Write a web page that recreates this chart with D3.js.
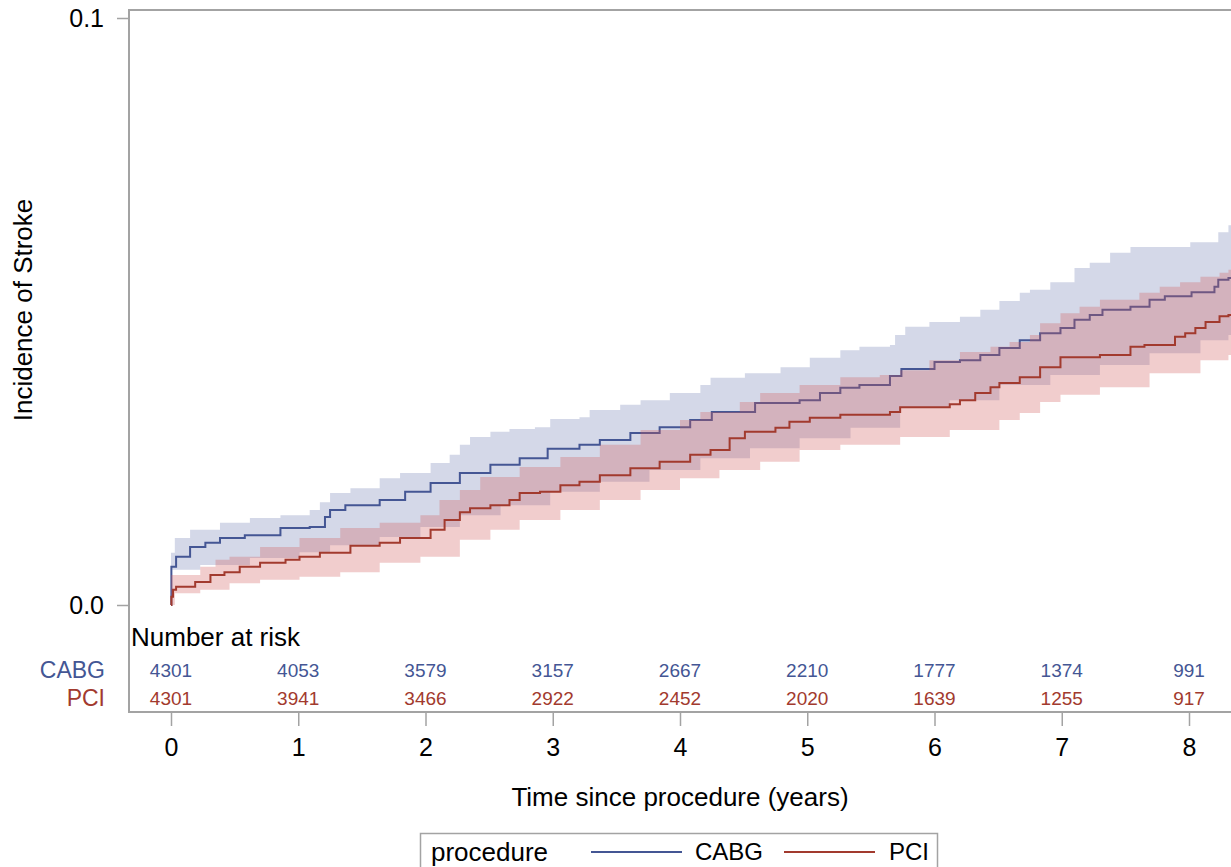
<!DOCTYPE html>
<html>
<head>
<meta charset="utf-8">
<script src="https://cdn.jsdelivr.net/npm/d3@7"></script>
<style>
  html, body { margin: 0; padding: 0; background: #fff; }
  svg { display: block; font-family: "Liberation Sans", Arial, sans-serif; }
</style>
</head>
<body>
<svg id="chart" width="1231" height="867"></svg>
<script>
// ---------------- DATA ----------------
const groups = ["CABG", "PCI"];
const xTicks = [0, 1, 2, 3, 4, 5, 6, 7, 8];
const yTicks = [0.0, 0.1];

// Kaplan-Meier style cumulative incidence: [time (years), incidence]
const cabgLine = [
  [0,0],[0.003,0.0065],[0.04,0.0082],[0.15,0.0099],[0.27,0.0106],[0.385,0.0114],[0.58,0.0119],
  [0.86,0.0131],[1.09,0.0133],[1.21,0.0150],[1.25,0.0162],[1.37,0.0170],[1.64,0.0179],[1.84,0.0193],
  [2.04,0.0208],[2.27,0.0225],[2.51,0.0239],[2.74,0.0250],[2.96,0.0266],[3.21,0.0273],[3.37,0.0281],
  [3.61,0.0293],[3.84,0.0303],[4.08,0.0315],[4.25,0.0329],[4.59,0.0344],[4.94,0.0349],[5.10,0.0361],
  [5.26,0.0370],[5.41,0.0375],[5.65,0.0390],[5.74,0.0402],[6.00,0.0414],[6.20,0.0417],[6.36,0.0426],
  [6.51,0.0438],[6.67,0.0451],[6.83,0.0463],[6.99,0.0472],[7.10,0.0486],[7.22,0.0494],[7.32,0.0503],
  [7.54,0.0508],[7.69,0.0520],[7.81,0.0526],[8.02,0.0533],[8.20,0.0542],[8.23,0.0554],[8.31,0.0557]
];
const cabgUpper = [
  [0,0.0089],[0.03,0.0114],[0.15,0.0128],[0.385,0.0140],[0.62,0.0148],[0.86,0.0153],[1.09,0.0162],
  [1.17,0.0175],[1.25,0.0191],[1.41,0.0199],[1.64,0.0216],[1.80,0.0225],[2.04,0.0242],[2.19,0.0256],
  [2.27,0.0273],[2.35,0.0286],[2.51,0.0295],[2.66,0.0300],[2.86,0.0303],[2.98,0.0317],[3.21,0.0320],
  [3.29,0.0332],[3.53,0.0341],[3.69,0.0349],[3.92,0.0361],[4.16,0.0375],[4.24,0.0387],[4.51,0.0395],
  [4.79,0.0405],[5.02,0.0421],[5.26,0.0434],[5.41,0.0440],[5.65,0.0443],[5.69,0.0460],[5.77,0.0474],
  [5.96,0.0482],[6.20,0.0491],[6.36,0.0503],[6.51,0.0518],[6.67,0.0532],[6.75,0.0537],[6.91,0.0550],
  [7.10,0.0574],[7.22,0.0583],[7.38,0.0600],[7.54,0.0610],[8.01,0.0618],[8.23,0.0635],[8.31,0.0647]
];
const cabgLower = [
  [0,0.0060],[0.23,0.0068],[0.62,0.0080],[1.01,0.0090],[1.25,0.0102],[1.64,0.0116],[1.96,0.0133],
  [2.27,0.0153],[2.59,0.0170],[2.98,0.0193],[3.37,0.0210],[3.76,0.0230],[4.16,0.0250],[4.55,0.0267],
  [4.94,0.0284],[5.34,0.0302],[5.73,0.0336],[6.12,0.0349],[6.51,0.0375],[6.91,0.0392],[7.30,0.0409],
  [7.69,0.0429],[8.09,0.0451],[8.31,0.0460]
];

const pciLine = [
  [0,0],[0.003,0.0014],[0.016,0.0026],[0.04,0.0031],[0.19,0.0039],[0.31,0.0051],[0.42,0.0056],
  [0.54,0.0065],[0.70,0.0072],[0.90,0.0077],[1.01,0.0082],[1.17,0.0089],[1.41,0.0101],[1.64,0.0106],
  [1.80,0.0114],[2.04,0.0128],[2.15,0.0145],[2.27,0.0158],[2.35,0.0165],[2.51,0.0170],[2.66,0.0179],
  [2.74,0.0191],[2.90,0.0193],[3.06,0.0204],[3.21,0.0210],[3.37,0.0221],[3.61,0.0233],[3.84,0.0244],
  [4.08,0.0256],[4.24,0.0264],[4.39,0.0284],[4.51,0.0295],[4.75,0.0302],[4.86,0.0312],[5.02,0.0319],
  [5.26,0.0324],[5.65,0.0329],[5.73,0.0337],[6.12,0.0342],[6.20,0.0349],[6.32,0.0361],[6.44,0.0371],
  [6.51,0.0378],[6.67,0.0388],[6.83,0.0405],[6.99,0.0422],[7.30,0.0426],[7.54,0.0440],[7.65,0.0443],
  [7.89,0.0457],[7.97,0.0463],[8.05,0.0472],[8.13,0.0482],[8.24,0.0492],[8.31,0.0494]
];
const pciUpper = [
  [0,0.0051],[0.23,0.0065],[0.35,0.0077],[0.46,0.0082],[0.70,0.0099],[1.01,0.0114],[1.33,0.0131],
  [1.64,0.0140],[1.96,0.0153],[2.11,0.0179],[2.27,0.0196],[2.43,0.0218],[2.74,0.0235],[3.06,0.0252],
  [3.37,0.0273],[3.69,0.0298],[4.00,0.0315],[4.16,0.0329],[4.47,0.0346],[4.63,0.0361],[4.94,0.0375],
  [5.26,0.0388],[5.57,0.0392],[5.73,0.0400],[5.96,0.0417],[6.20,0.0431],[6.44,0.0440],[6.59,0.0448],
  [6.75,0.0460],[6.83,0.0480],[6.99,0.0497],[7.14,0.0508],[7.30,0.0520],[7.61,0.0532],[7.77,0.0542],
  [7.93,0.0550],[8.09,0.0559],[8.24,0.0566],[8.31,0.0571]
];
const pciLower = [
  [0,0.0000],[0.03,0.0020],[0.23,0.0026],[0.46,0.0037],[0.70,0.0043],[1.01,0.0048],[1.33,0.0056],
  [1.64,0.0072],[1.96,0.0082],[2.27,0.0111],[2.51,0.0128],[2.74,0.0145],[3.06,0.0162],[3.37,0.0179],
  [3.69,0.0196],[4.00,0.0216],[4.31,0.0230],[4.63,0.0244],[4.94,0.0264],[5.26,0.0273],[5.73,0.0286],
  [6.12,0.0298],[6.51,0.0315],[6.67,0.0327],[6.83,0.0346],[6.99,0.0358],[7.30,0.0371],[7.69,0.0395],
  [8.09,0.0417],[8.31,0.0426]
];

const atRiskCABG = [4301, 4053, 3579, 3157, 2667, 2210, 1777, 1374, 991];
const atRiskPCI  = [4301, 3941, 3466, 2922, 2452, 2020, 1639, 1255, 917];

// ---------------- STYLE ----------------
const colors = { CABG: "#445694", PCI: "#A23A2E" };
const bandColors = { CABG: "#6F7EB3", PCI: "#D05B5B" };
const frameColor = "#A3A3A3";

// ---------------- LAYOUT ----------------
const svg = d3.select("#chart");
const plot = { left: 129, top: 10, right: 1240, bottom: 712 };

const x = d3.scaleLinear().domain([0, 8]).range([171, 1189]);
const y = d3.scaleLinear().domain([0, 0.1]).range([605, 18]);
const xEnd = x.invert(plot.right);

svg.append("defs").append("clipPath").attr("id", "clip")
  .append("rect").attr("x", plot.left).attr("y", plot.top)
  .attr("width", plot.right - plot.left).attr("height", plot.bottom - plot.top);

const g = svg.append("g").attr("clip-path", "url(#clip)");

function stepAt(arr, t) {
  let v = arr[0][1];
  for (const p of arr) { if (p[0] <= t) v = p[1]; else break; }
  return v;
}
function band(upper, lower) {
  const times = Array.from(new Set(upper.map(d => d[0]).concat(lower.map(d => d[0])))).sort((a, b) => a - b);
  const pts = times.map(t => ({ t, hi: stepAt(upper, t), lo: stepAt(lower, t) }));
  pts.push({ t: xEnd, hi: pts[pts.length - 1].hi, lo: pts[pts.length - 1].lo });
  return pts;
}
const area = d3.area().curve(d3.curveStepAfter)
  .x(d => x(d.t)).y0(d => y(d.lo)).y1(d => y(d.hi));
const line = d3.line().curve(d3.curveStepAfter)
  .x(d => x(d[0])).y(d => y(d[1]));
const extend = arr => arr.concat([[xEnd, arr[arr.length - 1][1]]]);

// CABG band + line, then PCI band + line
g.append("path").datum(band(cabgUpper, cabgLower)).attr("d", area)
  .attr("fill", bandColors.CABG).attr("fill-opacity", 0.3);
g.append("path").datum(extend(cabgLine)).attr("d", line)
  .attr("fill", "none").attr("stroke", colors.CABG).attr("stroke-width", 2);
g.append("path").datum(band(pciUpper, pciLower)).attr("d", area)
  .attr("fill", bandColors.PCI).attr("fill-opacity", 0.3);
g.append("path").datum(extend(pciLine)).attr("d", line)
  .attr("fill", "none").attr("stroke", colors.PCI).attr("stroke-width", 2);

// Frame
svg.append("path")
  .attr("d", `M${plot.right},${plot.top}H${plot.left}V${plot.bottom}H${plot.right}`)
  .attr("fill", "none").attr("stroke", frameColor).attr("stroke-width", 2);

// Y axis
const yAxis = svg.append("g").attr("transform", `translate(${plot.left},0)`)
  .call(d3.axisLeft(y).tickValues(yTicks).tickFormat(d3.format(".1f")).tickSize(12).tickPadding(13));
yAxis.select(".domain").remove();
yAxis.selectAll(".tick line").attr("stroke", frameColor).attr("stroke-width", 1.5);
yAxis.selectAll(".tick text").attr("font-size", 25).attr("fill", "#000")
  .attr("font-family", "Liberation Sans, Arial, sans-serif");

// X axis
const xAxis = svg.append("g").attr("transform", `translate(0,${plot.bottom})`)
  .call(d3.axisBottom(x).tickValues(xTicks).tickFormat(d3.format("d")).tickSize(14).tickPadding(12));
xAxis.select(".domain").remove();
xAxis.selectAll(".tick line").attr("stroke", frameColor).attr("stroke-width", 1.5);
xAxis.selectAll(".tick text").attr("font-size", 25).attr("fill", "#000")
  .attr("font-family", "Liberation Sans, Arial, sans-serif");

// Axis labels
svg.append("text").attr("x", 680).attr("y", 806).attr("text-anchor", "middle")
  .attr("font-size", 26).attr("fill", "#000").text("Time since procedure (years)");
svg.append("text").attr("transform", "translate(32,310) rotate(-90)").attr("text-anchor", "middle")
  .attr("font-size", 26).attr("fill", "#000").text("Incidence of Stroke");

// Number at risk table
svg.append("text").attr("x", 131).attr("y", 646).attr("font-size", 26).attr("fill", "#000").text("Number at risk");
const rows = [
  { name: groups[0], vals: atRiskCABG, y: 677 },
  { name: groups[1], vals: atRiskPCI, y: 705 }
];
rows.forEach(r => {
  svg.append("text").attr("x", 105).attr("y", r.y + 1).attr("text-anchor", "end")
    .attr("font-size", 23).attr("fill", colors[r.name]).text(r.name);
  svg.append("g").selectAll("text").data(r.vals).join("text")
    .attr("x", (d, i) => x(xTicks[i])).attr("y", r.y).attr("text-anchor", "middle")
    .attr("font-size", 19).attr("fill", colors[r.name]).text(d => d);
});

// Legend
const leg = svg.append("g");
leg.append("rect").attr("x", 420.5).attr("y", 833.5).attr("width", 517).attr("height", 40)
  .attr("fill", "#fff").attr("stroke", frameColor).attr("stroke-width", 1.5);
leg.append("text").attr("x", 431).attr("y", 861).attr("font-size", 26).attr("fill", "#000").text("procedure");
const legItems = [
  { name: groups[0], x1: 591, x2: 682, tx: 695 },
  { name: groups[1], x1: 784, x2: 875, tx: 889 }
];
legItems.forEach(it => {
  leg.append("line").attr("x1", it.x1).attr("x2", it.x2).attr("y1", 852).attr("y2", 852)
    .attr("stroke", colors[it.name]).attr("stroke-width", 2);
  leg.append("text").attr("x", it.tx).attr("y", 860).attr("font-size", 24).attr("fill", "#000").text(it.name);
});
</script>
</body>
</html>
